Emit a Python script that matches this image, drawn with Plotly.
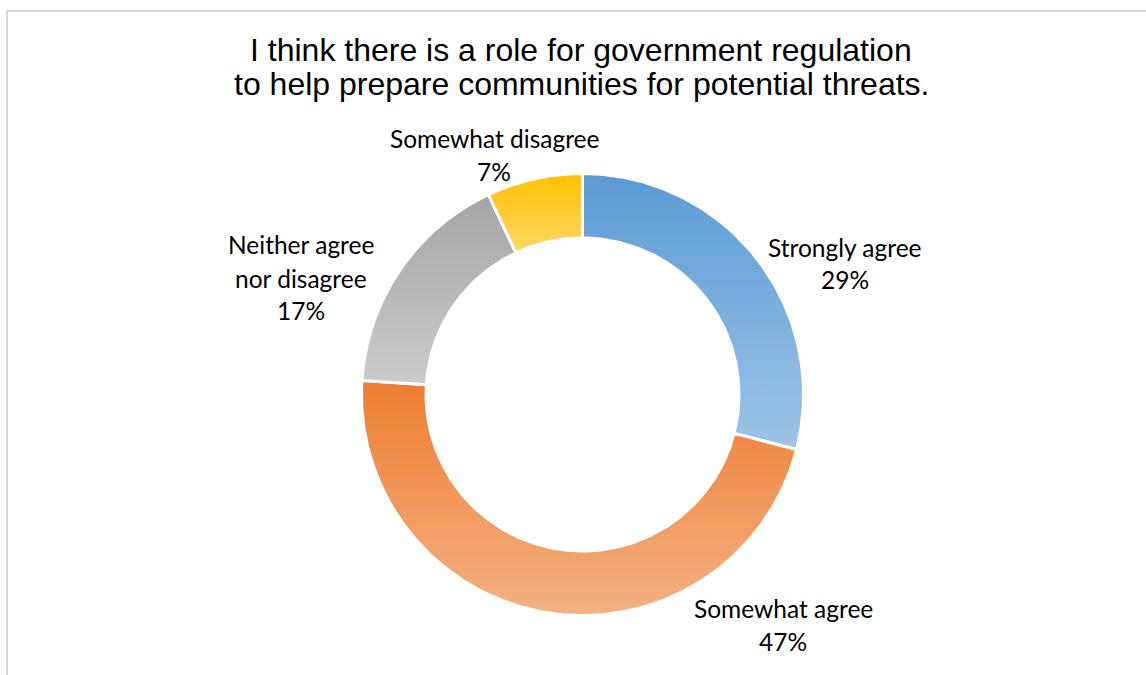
import numpy as np
import plotly.graph_objects as go

categories = ["Strongly agree", "Somewhat agree", "Neither agree nor disagree", "Somewhat disagree"]
values = [29, 47, 17, 7]
pct_labels = ["29%", "47%", "17%", "7%"]
label_lines = [["Strongly agree", "29%"], ["Somewhat agree", "47%"],
               ["Neither agree", "nor disagree", "17%"], ["Somewhat disagree", "7%"]]
title_lines = ["I think there is a role for government regulation",
               "to help prepare communities for potential threats."]

# styling
dark = ["#5b9bd5", "#ed7d31", "#a5a5a5", "#ffc000"]
light = ["#9dc3e6", "#f4b183", "#cbcbcb", "#ffd966"]
W, H = 1146, 675
cx_px, cy_px = 582.5, 394.5
R_out, R_in = 221.0, 156.5
label_px = [(844.5, 247), (783, 608), (301, 245), (494, 138)]
line_gap = 33
title_y = [50, 84]

fig = go.Figure()
total = sum(values)
cum = 0.0
for i, v in enumerate(values):
    f0 = cum / total
    f1 = (cum + v) / total
    cum += v
    n = max(8, int(400 * (f1 - f0)))
    th = np.radians(90 - 360 * np.linspace(f0, f1, n))
    xo, yo = R_out * np.cos(th), R_out * np.sin(th)
    xi, yi = R_in * np.cos(th[::-1]), R_in * np.sin(th[::-1])
    xs = np.concatenate([xo, xi, xo[:1]])
    ys = np.concatenate([yo, yi, yo[:1]])
    fig.add_trace(go.Scatter(
        x=xs, y=ys, mode="lines", fill="toself",
        line=dict(color="white", width=3),
        fillgradient=dict(type="vertical", colorscale=[[0, light[i]], [1, dark[i]]]),
        hoverinfo="text", text=f"{categories[i]}: {pct_labels[i]}",
        showlegend=False,
    ))

for i, (lx, ly) in enumerate(label_px):
    for k, line in enumerate(label_lines[i]):
        fig.add_annotation(
            x=lx / W, y=1 - (ly + k * line_gap) / H, xref="paper", yref="paper",
            text=line, showarrow=False,
            font=dict(family="Lato", size=24.5, color="#000000"),
            align="center", xanchor="center", yanchor="middle",
        )

for k, line in enumerate(title_lines):
    fig.add_annotation(
        x=581 / W, y=1 - title_y[k] / H, xref="paper", yref="paper",
        text=line, showarrow=False,
        font=dict(family="Liberation Sans", size=32, color="#000000"),
        align="center", xanchor="center", yanchor="middle",
    )

fig.add_shape(type="rect", xref="paper", yref="paper",
              x0=7 / W, x1=1.02, y0=-0.02, y1=1 - 11 / H,
              line=dict(color="#d9d9d9", width=2), fillcolor="rgba(0,0,0,0)", layer="below")

fig.update_layout(
    width=W, height=H,
    margin=dict(l=0, r=0, t=0, b=0),
    paper_bgcolor="white", plot_bgcolor="white",
    xaxis=dict(range=[-cx_px, W - cx_px], visible=False, fixedrange=True),
    yaxis=dict(range=[-(H - cy_px), cy_px], visible=False, fixedrange=True),
    showlegend=False,
)

fig.write_html("out.html")
